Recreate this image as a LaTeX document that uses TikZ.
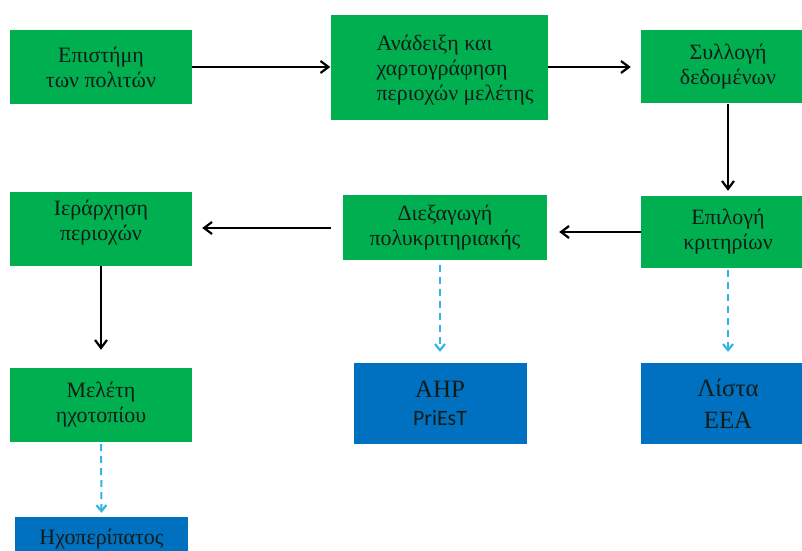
\documentclass[tikz,border=0pt]{standalone}
\usepackage{fontspec}
\setmainfont{Liberation Serif}
\newfontfamily\calibrifont{Carlito}
\usetikzlibrary{arrows.meta}

\definecolor{stagegreen}{RGB}{0,176,80}
\definecolor{toolblue}{RGB}{0,112,192}
\definecolor{linkcyan}{RGB}{52,180,228}
\definecolor{inkdark}{RGB}{20,28,24}

\tikzset{
  stage/.style={fill=stagegreen, draw=none, align=center, inner sep=0pt,
    text=inkdark, font=\fontsize{22}{25}\selectfont},
  tool/.style={fill=toolblue, draw=none, align=center, inner sep=0pt,
    text=inkdark, font=\fontsize{25}{32}\selectfont},
  caption/.style={inner sep=0pt, text=inkdark, align=center,
    font=\fontsize{22}{25}\selectfont},
  flow/.style={draw=black, line width=2bp,
    -{Straight Barb[length=8bp,width=12bp,line width=2.2bp]}},
  reference/.style={draw=linkcyan, line width=2bp, dash pattern=on 7bp off 5bp,
    -{Straight Barb[length=6bp,width=10bp,line width=2.2bp]}}
}

\begin{document}
\begin{tikzpicture}[x=1bp,y=-1bp]
  \useasboundingbox (0,0) rectangle (802,551);
  \clip (0,0) rectangle (802,551);

  % process steps
  \node[stage, minimum width=182bp, minimum height=74bp] (citizen) at (101,67)
    {Επιστήμη\\των πολιτών};
  \node[stage, minimum width=217bp, minimum height=105bp] (mapping) at (439,67.5) {};
  \node[caption, align=left] (mappingtext) at (455,70)
    {Ανάδειξη και\\χαρτογράφηση\\περιοχών μελέτης};
  \node[stage, minimum width=174bp, minimum height=73bp] (data) at (728,67)
    {Συλλογή\\δεδομένων};
  \node[stage, minimum width=174bp, minimum height=72bp] (criteria) at (728,232)
    {Επιλογή\\κριτηρίων};
  \node[stage, minimum width=204bp, minimum height=65bp] (mcda) at (445,228)
    {Διεξαγωγή\\πολυκριτηριακής};
  \node[stage, minimum width=182bp, minimum height=74bp] (ranking) at (101,229) {};
  \node[caption] (rankingtext) at (101,223)
    {Ιεράρχηση\\περιοχών};
  \node[stage, minimum width=182bp, minimum height=74bp] (soundscape) at (101,405)
    {Μελέτη\\ηχοτοπίου};

  % methods and outputs
  \node[tool, minimum width=173bp, minimum height=81bp] (ahp) at (440,403.5)
    {AHP\\[-4bp]{\calibrifont\fontsize{22}{26}\selectfont PriEsT}};
  \node[tool, minimum width=174bp, minimum height=81bp] (list) at (728,403.5)
    {Λίστα\\EEA};
  \node[tool, minimum width=173bp, minimum height=44bp,
        font=\fontsize{22}{25}\selectfont] (walk) at (101.5,539)
    {Ηχοπερίπατος};

  % main flow
  \draw[flow] (citizen.east) -- (mapping.west |- citizen.east);
  \draw[flow, shorten >=10bp] (mapping.east |- data.west) -- (data.west);
  \draw[flow, shorten >=5bp] (data.south) -- (criteria.north);
  \draw[flow, shorten >=12bp] (criteria.west) -- (mcda.east |- criteria.west);
  \draw[flow, shorten <=12bp, shorten >=10bp] (mcda.west) -- (ranking.east |- mcda.west);
  \draw[flow, shorten >=18bp] (ranking.south) -- (soundscape.north);

  % links to tools
  \draw[reference, shorten <=4bp, shorten >=11bp] (ahp.north |- mcda.south) -- (ahp.north);
  \draw[reference, shorten <=2bp, shorten >=11bp] (criteria.south) -- (list.north);
  \draw[reference, shorten <=2bp, shorten >=4bp] (soundscape.south) -- (walk.north);
\end{tikzpicture}
\end{document}
